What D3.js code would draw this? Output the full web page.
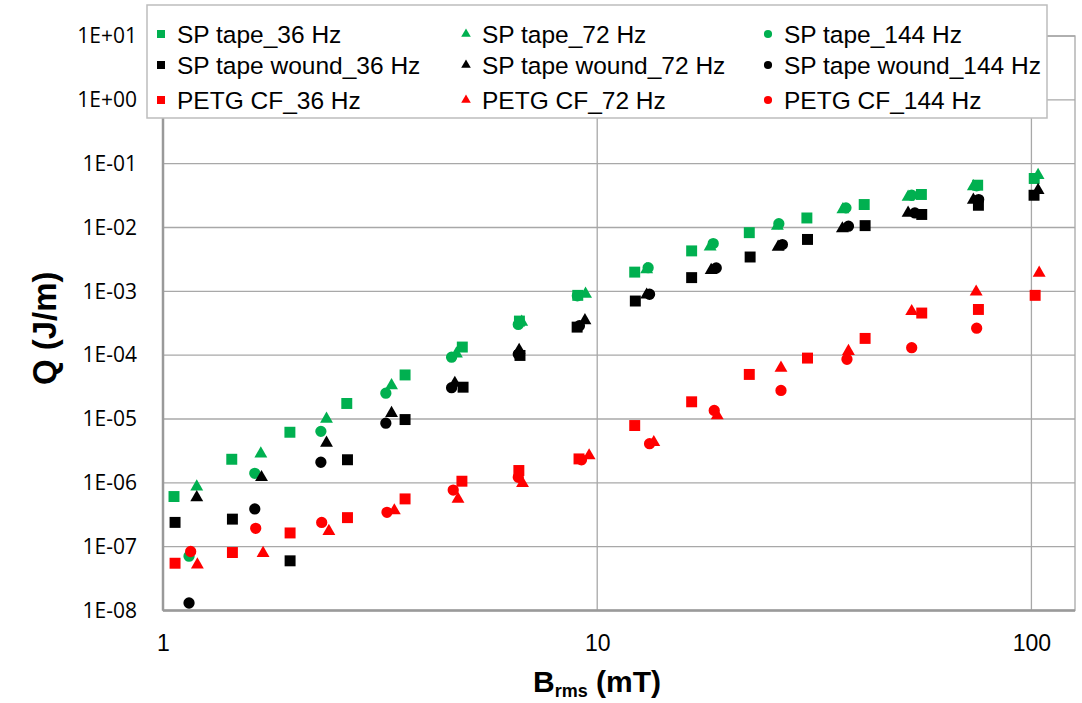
<!DOCTYPE html>
<html>
<head>
<meta charset="utf-8">
<script src="https://cdn.jsdelivr.net/npm/d3@7"></script>
<style>
  body { margin: 0; background: #fff; }
  svg { display: block; }
</style>
</head>
<body>
<div id="chart"></div>
<script>
// tick labels
const xTicks = [1, 10, 100];
const yTicks = [1e-8, 1e-7, 1e-6, 1e-5, 1e-4, 1e-3, 1e-2, 1e-1, 1, 10];
const yTickLabels = ['1E-08', '1E-07', '1E-06', '1E-05', '1E-04', '1E-03', '1E-02', '1E-01', '1E+00', '1E+01'];

// SP tape
const sp36B = [1.06, 1.44, 1.96, 2.65, 3.61, 4.89, 6.62, 9.02, 12.2, 16.5, 22.4, 30.4, 41.2, 55.8, 75.2, 101.5];
const sp36Q = [6.1e-7, 2.34e-6, 6.2e-6, 1.75e-5, 4.9e-5, 1.34e-4, 3.42e-4, 8.65e-4, 2.0e-3, 4.3e-3, 8.3e-3, 1.41e-2, 2.29e-2, 3.29e-2, 4.6e-2, 5.86e-2];
const sp72B = [1.196, 1.68, 2.38, 3.36, 4.74, 6.7, 9.4, 13.0, 18.2, 26.0, 36.8, 52.0, 73.5, 103.6];
const sp72Q = [8.7e-7, 2.85e-6, 1.0e-5, 3.35e-5, 1.05e-4, 3.3e-4, 9.1e-4, 2.2e-3, 5.0e-3, 1.05e-2, 1.91e-2, 3.0e-2, 4.4e-2, 6.6e-2];
const sp144B = [1.148, 1.627, 2.31, 3.26, 4.62, 6.58, 9.0, 13.1, 18.5, 26.2, 37.4, 53, 74.8];
const sp144Q = [7.1e-8, 1.41e-6, 6.4e-6, 2.54e-5, 9.3e-5, 3.03e-4, 8.5e-4, 2.35e-3, 5.6e-3, 1.15e-2, 2.03e-2, 3.2e-2, 4.5e-2];

// SP tape wound
const wd36B = [1.066, 1.445, 1.962, 2.66, 3.61, 4.91, 6.64, 8.99, 12.24, 16.5, 22.5, 30.5, 41.4, 55.9, 75.5, 101.4];
const wd36Q = [2.4e-7, 2.7e-7, 6.0e-8, 2.3e-6, 9.8e-6, 3.15e-5, 9.9e-5, 2.75e-4, 7.05e-4, 1.64e-3, 3.45e-3, 6.5e-3, 1.07e-2, 1.6e-2, 2.23e-2, 3.2e-2];
const wd72B = [1.196, 1.686, 2.38, 3.36, 4.70, 6.61, 9.37, 13.0, 18.3, 26.1, 36.7, 52.0, 73.5, 103.6];
const wd72Q = [5.9e-7, 1.22e-6, 4.2e-6, 1.23e-5, 3.65e-5, 1.2e-4, 3.5e-4, 8.8e-4, 2.14e-3, 4.95e-3, 9.6e-3, 1.69e-2, 2.7e-2, 3.84e-2];
const wd144B = [1.148, 1.627, 2.31, 3.26, 4.62, 6.58, 9.1, 13.2, 18.8, 26.7, 37.9, 53.9, 75.6];
const wd144Q = [1.31e-8, 3.9e-7, 2.1e-6, 8.6e-6, 3.1e-5, 1.03e-4, 2.9e-4, 9.0e-4, 2.32e-3, 5.4e-3, 1.05e-2, 1.69e-2, 2.74e-2];

// PETG CF
const pg36B = [1.066, 1.445, 1.962, 2.66, 3.61, 4.88, 6.6, 9.08, 12.2, 16.5, 22.4, 30.5, 41.4, 55.9, 75.5, 102];
const pg36Q = [5.5e-8, 8.1e-8, 1.64e-7, 2.85e-7, 5.6e-7, 1.06e-6, 1.56e-6, 2.37e-6, 7.9e-6, 1.86e-5, 4.99e-5, 9.0e-5, 1.83e-4, 4.57e-4, 5.2e-4, 8.65e-4];
const pg72B = [1.20, 1.70, 2.41, 3.41, 4.78, 6.73, 9.58, 13.5, 18.9, 26.5, 37.9, 53, 74.6, 104.2];
const pg72Q = [5.2e-8, 7.9e-8, 1.74e-7, 3.67e-7, 5.6e-7, 9.8e-7, 2.67e-6, 4.3e-6, 1.13e-5, 6.3e-5, 1.15e-4, 4.85e-4, 9.8e-4, 1.94e-3];
const pg144B = [1.158, 1.635, 2.32, 3.28, 4.66, 6.58, 9.2, 13.2, 18.6, 26.5, 37.6, 53, 74.8];
const pg144Q = [8.4e-8, 1.94e-7, 2.4e-7, 3.45e-7, 7.7e-7, 1.22e-6, 2.3e-6, 4.1e-6, 1.36e-5, 2.8e-5, 8.6e-5, 1.31e-4, 2.65e-4];

const seriesNames = ['SP tape_36 Hz', 'SP tape_72 Hz', 'SP tape_144 Hz',
    'SP tape wound_36 Hz', 'SP tape wound_72 Hz', 'SP tape wound_144 Hz',
    'PETG CF_36 Hz', 'PETG CF_72 Hz', 'PETG CF_144 Hz'];

const green = '#00B050', black = '#000000', red = '#FF0000';

// build series table
const series = [
    { name: seriesNames[0], b: sp36B, q: sp36Q, color: green, shape: 'square' },
    { name: seriesNames[1], b: sp72B, q: sp72Q, color: green, shape: 'triangle' },
    { name: seriesNames[2], b: sp144B, q: sp144Q, color: green, shape: 'circle' },
    { name: seriesNames[3], b: wd36B, q: wd36Q, color: black, shape: 'square' },
    { name: seriesNames[4], b: wd72B, q: wd72Q, color: black, shape: 'triangle' },
    { name: seriesNames[5], b: wd144B, q: wd144Q, color: black, shape: 'circle' },
    { name: seriesNames[6], b: pg36B, q: pg36Q, color: red, shape: 'square' },
    { name: seriesNames[7], b: pg72B, q: pg72Q, color: red, shape: 'triangle' },
    { name: seriesNames[8], b: pg144B, q: pg144Q, color: red, shape: 'circle' }
];

const W = 1082, H = 703;
const plot = { left: 163, right: 1075, top: 36, bottom: 610.5 };
const font = '"Liberation Sans", Arial, sans-serif';

const svg = d3.select('#chart')
    .append('svg')
    .attr('width', W)
    .attr('height', H);

const x = d3.scaleLog()
    .domain([1, 126])
    .range([plot.left, plot.right]);

const y = d3.scaleLog()
    .domain([1e-8, 10])
    .range([plot.bottom, plot.top]);

const gridColor = '#A8A8A8';

// horizontal gridlines
svg.append('g')
    .selectAll('line')
    .data(yTicks)
    .join('line')
    .attr('x1', plot.left)
    .attr('x2', plot.right)
    .attr('y1', d => y(d))
    .attr('y2', d => y(d))
    .attr('stroke', gridColor)
    .attr('stroke-width', 1.3);

// vertical gridlines
svg.append('g')
    .selectAll('line')
    .data(xTicks)
    .join('line')
    .attr('x1', d => x(d))
    .attr('x2', d => x(d))
    .attr('y1', plot.top)
    .attr('y2', plot.bottom)
    .attr('stroke', gridColor)
    .attr('stroke-width', 1.3);

// plot area border
svg.append('rect')
    .attr('x', plot.left)
    .attr('y', plot.top)
    .attr('width', plot.right - plot.left)
    .attr('height', plot.bottom - plot.top)
    .attr('fill', 'none')
    .attr('stroke', gridColor)
    .attr('stroke-width', 1.3);

// axis lines (left and bottom, a bit heavier)
svg.append('line')
    .attr('x1', plot.left).attr('x2', plot.left)
    .attr('y1', plot.top).attr('y2', plot.bottom)
    .attr('stroke', '#9A9A9A').attr('stroke-width', 2.5);
svg.append('line')
    .attr('x1', plot.left).attr('x2', plot.right)
    .attr('y1', plot.bottom).attr('y2', plot.bottom)
    .attr('stroke', '#9A9A9A').attr('stroke-width', 2.5);

// y axis tick labels
const yAxis = d3.axisLeft(y)
    .tickValues(yTicks)
    .tickFormat((d, i) => yTickLabels[i])
    .tickSize(0)
    .tickPadding(26);
const gy = svg.append('g')
    .attr('transform', 'translate(' + plot.left + ',0)')
    .call(yAxis);
gy.select('.domain').remove();
gy.selectAll('text')
    .attr('fill', '#000')
    .style('font-family', '"Open Sans", sans-serif')
    .style('font-size', '21px');

// x axis tick labels
const xAxis = d3.axisBottom(x)
    .tickValues(xTicks)
    .tickFormat(d3.format('d'))
    .tickSize(0)
    .tickPadding(24);
const gx = svg.append('g')
    .attr('transform', 'translate(0,' + plot.bottom + ')')
    .call(xAxis);
gx.select('.domain').remove();
gx.selectAll('text')
    .attr('fill', '#000')
    .style('font-family', font)
    .style('font-size', '23px');

// symbols
const symbolType = { square: d3.symbolSquare, triangle: d3.symbolTriangle, circle: d3.symbolCircle };
const symbolSize = { square: 120, triangle: 72, circle: 100 };

series.forEach(s => {
    const pts = s.b.map((b, i) => ({ b: b, q: s.q[i] }));
    svg.append('g')
        .selectAll('path')
        .data(pts)
        .join('path')
        .attr('transform', d => 'translate(' + x(d.b) + ',' + y(d.q) + ')')
        .attr('d', d3.symbol().type(symbolType[s.shape]).size(symbolSize[s.shape]))
        .attr('fill', s.color);
});

// legend
const legend = svg.append('g');
legend.append('rect')
    .attr('x', 147)
    .attr('y', 5)
    .attr('width', 900)
    .attr('height', 113)
    .attr('fill', '#fff')
    .attr('stroke', '#BDBDBD')
    .attr('stroke-width', 1.5);

const colX = [161, 466, 768];
const rowY = [34, 65, 100];
const legendSize = { square: 64, triangle: 40, circle: 52 };

series.forEach((s, i) => {
    const cx = colX[i % 3], cy = rowY[Math.floor(i / 3)];
    legend.append('path')
        .attr('transform', 'translate(' + cx + ',' + cy + ')')
        .attr('d', d3.symbol().type(symbolType[s.shape]).size(legendSize[s.shape]))
        .attr('fill', s.color);
    legend.append('text')
        .attr('x', cx + 16)
        .attr('y', cy)
        .attr('dominant-baseline', 'central')
        .style('font-family', font)
        .style('font-size', '24.5px')
        .text(s.name);
});

// y axis title
svg.append('text')
    .attr('transform', 'translate(44,' + ((plot.top + plot.bottom) / 2 + 5) + ') rotate(-90)')
    .attr('text-anchor', 'middle')
    .attr('dominant-baseline', 'central')
    .style('font-family', font)
    .style('font-weight', 'bold')
    .style('font-size', '33px')
    .text('Q (J/m)');

// x axis title
const xTitle = svg.append('text')
    .attr('x', 597)
    .attr('y', 692)
    .attr('text-anchor', 'middle')
    .style('font-family', font)
    .style('font-weight', 'bold')
    .style('font-size', '30px');
xTitle.append('tspan').text('B');
xTitle.append('tspan').attr('dy', 5).style('font-size', '18px').text('rms');
xTitle.append('tspan').attr('dy', -5).text(' (mT)');
</script>
</body>
</html>
